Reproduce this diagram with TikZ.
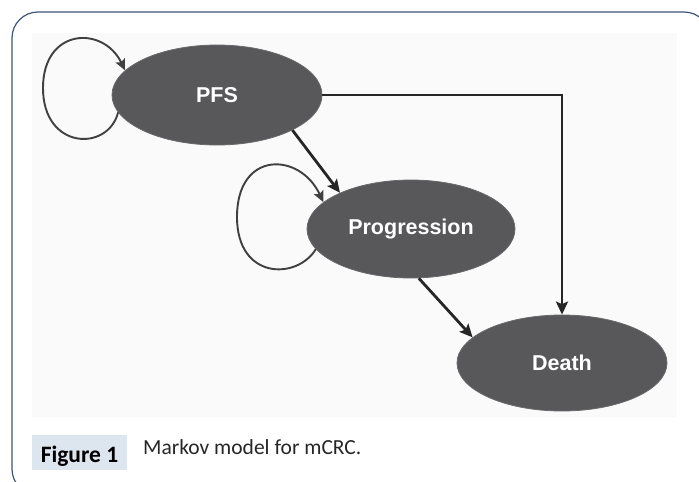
\documentclass[tikz,border=0pt]{standalone}
\usepackage{fontspec}
\setmainfont{Liberation Sans}
\newfontfamily\capfont{Carlito}
\usetikzlibrary{shapes.geometric,arrows.meta}
\definecolor{framecol}{HTML}{3A5578}
\definecolor{panelcol}{HTML}{FAFAFA}
\definecolor{statecol}{HTML}{58585A}
\definecolor{arrowcol}{HTML}{262626}
\definecolor{loopcol}{HTML}{404040}
\definecolor{labelbox}{HTML}{DDE5EF}
\tikzset{
  state/.style={ellipse, fill=statecol, draw=statecol!90!white, line width=0.8pt, inner sep=0pt,
    text=white, font=\fontsize{21.5}{24}\selectfont\bfseries},
  trans/.style={draw=arrowcol, line width=2.8pt, -{Stealth[length=13pt,width=12pt,inset=2.5pt]}},
  selfloop/.style={draw=loopcol, line width=1.9pt, -{Stealth[length=11pt,width=10pt,inset=2pt]}},
}
\begin{document}
\begin{tikzpicture}[x=1pt,y=-1pt]
\useasboundingbox (0,0) rectangle (699,482);
\begin{scope}
\clip (0,0) rectangle (699,482);
\draw[framecol, line width=1.2pt, rounded corners=26pt] (12,12) rectangle (710,495);
\end{scope}
\fill[panelcol] (32,33) rectangle (677,417);

\node[state, minimum width=210pt, minimum height=100pt] (pfs) at (217,95) {PFS};
\node[state, minimum width=208pt, minimum height=98pt] (prog) at (411,229) {Progression};
\node[state, minimum width=210pt, minimum height=96pt] (death) at (562,363) {Death};

\draw[trans] (pfs.east) -| (death.north);
\draw[trans] (pfs.-25) -- (prog.153);
\draw[trans] (prog.-81) -- (death.164);

\draw[selfloop] (pfs.190) .. controls (108,152) and (43,150) .. (43,88) .. controls (43,28) and (103,25) .. (pfs.165);
\draw[selfloop] (prog.192) .. controls (297,280) and (237,280) .. (237,217) .. controls (237,150) and (300,152) .. (prog.163);

\fill[labelbox] (32,435) rectangle (127,470);
\node[font=\capfont\fontsize{23.5}{26}\selectfont\bfseries, text=black, inner sep=0pt, anchor=base] (figlbl) at (79.5,462) {Figure 1};
\node[font=\capfont\fontsize{21.5}{24}\selectfont, text=black!85, inner sep=0pt, anchor=base west] (caption) at (143,454) {Markov model for mCRC.};
\end{tikzpicture}
\end{document}
